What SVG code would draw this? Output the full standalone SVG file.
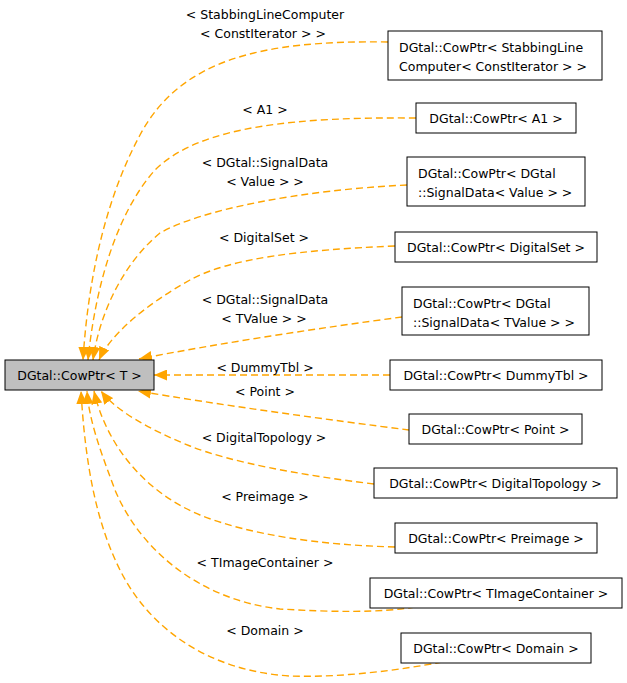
<svg xmlns="http://www.w3.org/2000/svg" width="627" height="683" viewBox="0 0 627 683">
  <style>
    text { font-family: "DejaVu Sans", "Liberation Sans", sans-serif; font-size: 12.5px; fill: #000; }
    .c { text-anchor: middle; }
    .box { fill: #fff; stroke: #000; stroke-width: 1; }
    .root { fill: #bfbfbf; stroke: #000; stroke-width: 1; }
    .edge { fill: none; stroke: #ffa500; stroke-width: 1.4; stroke-dasharray: 7,4; marker-end: url(#ah); }
  </style>
  <defs>
    <marker id="ah" markerUnits="userSpaceOnUse" markerWidth="13" markerHeight="11" viewBox="0 0 13 11" refX="13" refY="5.5" orient="auto">
      <path d="M0,0 L13,5.5 L0,11 z" fill="#ffa500"/>
    </marker>
  </defs>

  <!-- connectors: each template instance points back to CowPtr<T> -->
  <g id="edges">
    <path class="edge" d="M388,42 C 260,40 180,60 140,135 C 105,200 88,280 83,360"/>
    <path class="edge" d="M416,118 C 300,117 200,125 155,170 C 115,215 95,290 88,360"/>
    <path class="edge" d="M407,185 C 300,190 200,210 160,233 C 125,262 100,310 93,360"/>
    <path class="edge" d="M395,246 C 300,250 230,258 190,280 C 145,305 110,335 99,360"/>
    <path class="edge" d="M402,317 C 320,328 220,343 139,359"/>
    <path class="edge" d="M390,375 L154,375"/>
    <path class="edge" d="M409,430 C 330,420 220,405 138,391"/>
    <path class="edge" d="M374,484 C 300,475 230,462 190,446 C 150,430 115,410 101,391"/>
    <path class="edge" d="M395,547 C 320,545 250,535 200,515 C 140,490 105,440 94,391"/>
    <path class="edge" d="M415,607 C 380,613 330,612 280,609 C 200,600 140,550 115,490 C 100,450 89,420 87,391"/>
    <path class="edge" d="M442,662 C 400,670 340,678 290,676 C 210,671 150,630 120,570 C 95,520 85,460 81,391"/>

    <text class="c" x="265" y="19">&lt; StabbingLineComputer</text>
    <text class="c" x="263" y="38">&lt; ConstIterator &gt; &gt;</text>
    <text class="c" x="265" y="114">&lt; A1 &gt;</text>
    <text class="c" x="265" y="166.5">&lt; DGtal::SignalData</text>
    <text class="c" x="265" y="185.5">&lt; Value &gt; &gt;</text>
    <text class="c" x="264" y="241.5">&lt; DigitalSet &gt;</text>
    <text class="c" x="265" y="304">&lt; DGtal::SignalData</text>
    <text class="c" x="264" y="323">&lt; TValue &gt; &gt;</text>
    <text class="c" x="265" y="371.5">&lt; DummyTbl &gt;</text>
    <text class="c" x="265" y="395.5">&lt; Point &gt;</text>
    <text class="c" x="264" y="441.5">&lt; DigitalTopology &gt;</text>
    <text class="c" x="265" y="501">&lt; Preimage &gt;</text>
    <text class="c" x="265" y="567">&lt; TImageContainer &gt;</text>
    <text class="c" x="265" y="635">&lt; Domain &gt;</text>
  </g>

  <g id="node-root">
    <rect class="root" x="5" y="360" width="149" height="30"/>
    <text class="c" x="79.5" y="379.5">DGtal::CowPtr&lt; T &gt;</text>
  </g>

  <g id="node-stabbing">
    <rect class="box" x="388" y="31" width="214" height="49"/>
    <text x="399" y="51.5">DGtal::CowPtr&lt; StabbingLine</text>
    <text x="399" y="70.5">Computer&lt; ConstIterator &gt; &gt;</text>
  </g>

  <g id="node-a1">
    <rect class="box" x="416" y="103" width="160" height="30"/>
    <text class="c" x="496" y="122.5">DGtal::CowPtr&lt; A1 &gt;</text>
  </g>

  <g id="node-signal-value">
    <rect class="box" x="407" y="157" width="178" height="49"/>
    <text x="418" y="177.5">DGtal::CowPtr&lt; DGtal</text>
    <text x="418" y="196.5">::SignalData&lt; Value &gt; &gt;</text>
  </g>

  <g id="node-digitalset">
    <rect class="box" x="395" y="232" width="202" height="30"/>
    <text class="c" x="496" y="251.5">DGtal::CowPtr&lt; DigitalSet &gt;</text>
  </g>

  <g id="node-signal-tvalue">
    <rect class="box" x="402" y="287" width="187" height="48"/>
    <text x="413" y="307.5">DGtal::CowPtr&lt; DGtal</text>
    <text x="413" y="326.5">::SignalData&lt; TValue &gt; &gt;</text>
  </g>

  <g id="node-dummytbl">
    <rect class="box" x="390" y="360" width="212" height="30"/>
    <text class="c" x="496" y="379.5">DGtal::CowPtr&lt; DummyTbl &gt;</text>
  </g>

  <g id="node-point">
    <rect class="box" x="409" y="414" width="173" height="30"/>
    <text class="c" x="495.5" y="433.5">DGtal::CowPtr&lt; Point &gt;</text>
  </g>

  <g id="node-digitaltopology">
    <rect class="box" x="374" y="468" width="243" height="30"/>
    <text class="c" x="495.5" y="487.5">DGtal::CowPtr&lt; DigitalTopology &gt;</text>
  </g>

  <g id="node-preimage">
    <rect class="box" x="395" y="523" width="202" height="30"/>
    <text class="c" x="496" y="542.5">DGtal::CowPtr&lt; Preimage &gt;</text>
  </g>

  <g id="node-timagecontainer">
    <rect class="box" x="370" y="578" width="252" height="30"/>
    <text class="c" x="496" y="597.5">DGtal::CowPtr&lt; TImageContainer &gt;</text>
  </g>

  <g id="node-domain">
    <rect class="box" x="401" y="633" width="190" height="30"/>
    <text class="c" x="496" y="652.5">DGtal::CowPtr&lt; Domain &gt;</text>
  </g>
</svg>
